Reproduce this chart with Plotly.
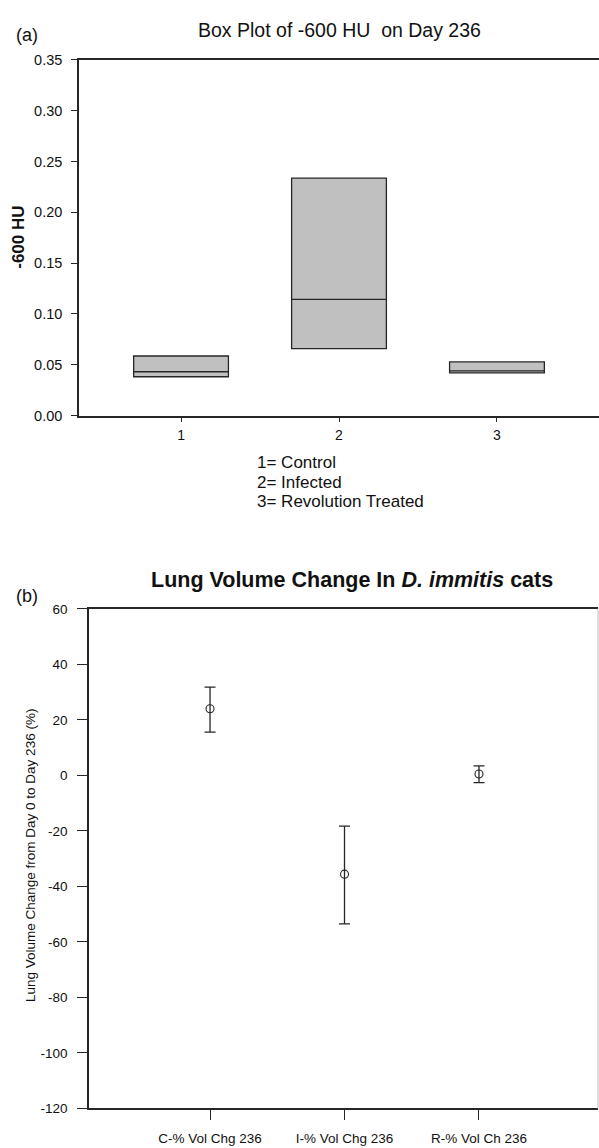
import plotly.graph_objects as go

# Panel (a): box plot of -600 HU fraction on day 236
groups = [1, 2, 3]
group_ticks = ["1", "2", "3"]
group_names = ["1= Control", "2= Infected", "3= Revolution Treated"]
q1 = [0.0382, 0.0658, 0.0420]
median = [0.0431, 0.1144, 0.0440]
q3 = [0.0586, 0.2336, 0.0528]

# Panel (b): lung volume change, mean with error range
cats = ["C-% Vol Chg 236", "I-% Vol Chg 236", "R-% Vol Ch 236"]
vol_mean = [24.0, -35.6, 0.5]
vol_upper = [31.8, -18.3, 3.4]
vol_lower = [15.6, -53.5, -2.6]
vol_ticks = [60, 40, 20, 0, -20, -40, -60, -80, -100, -120]

W, H = 599, 1148
FONT = "Liberation Sans, Arial, sans-serif"
INK = "#262626"
TXT = "#111111"


def px(x):
    return x / W


def py(y):
    return 1 - y / H


fig = go.Figure()

fig.add_trace(go.Box(
    x=groups, q1=q1, median=median, q3=q3,
    lowerfence=q1, upperfence=q3,
    width=0.6, whiskerwidth=0,
    fillcolor="#c0c0c0",
    line=dict(color=INK, width=1.3),
    boxpoints=False, showlegend=False,
    xaxis="x", yaxis="y",
))

pos = [1, 2, 3]
fig.add_trace(go.Scatter(
    x=pos, y=vol_mean, mode="markers",
    marker=dict(symbol="circle-open", size=8, color=INK, line=dict(width=1.1)),
    error_y=dict(
        type="data", symmetric=False,
        array=[u - m for u, m in zip(vol_upper, vol_mean)],
        arrayminus=[m - l for m, l in zip(vol_mean, vol_lower)],
        color=INK, thickness=1.3, width=5.5,
    ),
    showlegend=False, xaxis="x2", yaxis="y2",
))

base = dict(
    showline=True, linecolor=INK, linewidth=1.6,
    ticks="outside", tickcolor=INK, tickwidth=1.3,
    showgrid=False, zeroline=False,
)

fig.update_layout(
    width=W, height=H,
    margin=dict(l=0, r=0, t=0, b=0),
    paper_bgcolor="white", plot_bgcolor="white",
    xaxis=dict(
        domain=[px(79), 1], anchor="y",
        range=[0.354, 3.646],
        tickvals=groups, ticktext=group_ticks,
        mirror=True, ticklen=5, ticklabelstandoff=1,
        tickfont=dict(family=FONT, size=14, color=TXT),
        **base,
    ),
    yaxis=dict(
        domain=[py(413.3), py(52.7)], anchor="x",
        range=[0, 0.35], dtick=0.05, tickformat=".2f",
        ticklen=6, ticklabelstandoff=6,
        tickfont=dict(family=FONT, size=14.5, color=TXT),
        **base,
    ),
    xaxis2=dict(
        domain=[px(89), px(598)], anchor="y2",
        range=[0.1, 3.885],
        tickvals=pos, ticktext=cats,
        mirror=True, ticklen=10, ticklabelstandoff=7,
        tickfont=dict(family=FONT, size=13.5, color=TXT),
        **base,
    ),
    yaxis2=dict(
        domain=[py(1116), py(609.3)], anchor="x2",
        range=[-120, 60],
        tickvals=vol_ticks, ticktext=[str(v) for v in vol_ticks],
        ticklen=10, ticklabelstandoff=7,
        tickfont=dict(family=FONT, size=13.5, color=TXT),
        **base,
    ),
)

# faint right-hand frame edge of panel (b)
fig.add_shape(
    type="line", xref="x2 domain", yref="y2 domain",
    x0=1, x1=1, y0=0, y1=1,
    line=dict(color="#c8c8c8", width=1.2),
)


def note(text, x, y, size, bold=False, angle=0, xanchor="center"):
    fig.add_annotation(
        text=f"<b>{text}</b>" if bold else text,
        x=px(x), y=py(y), xref="paper", yref="paper",
        xanchor=xanchor, yanchor="middle", align="left",
        textangle=angle, showarrow=False,
        font=dict(family=FONT, size=size, color=TXT),
    )


note("(a)", 14, 27, 18, xanchor="left")
note("Box Plot of -600 HU&nbsp;&nbsp;on Day 236", 339, 22, 19.5)
note("-600 HU", 19, 233, 17, bold=True, angle=-90)
for name, ly in zip(group_names, [461, 481, 500]):
    note(name, 255, ly, 17, xanchor="left")

note("(b)", 14, 596, 18, xanchor="left")
note("Lung Volume Change In <i>D. immitis</i> cats", 352, 580, 21.5, bold=True)
note("Lung Volume Change from Day 0 to Day 236 (%)", 30, 860, 13.5, angle=-90)

fig.write_html("out.html")
